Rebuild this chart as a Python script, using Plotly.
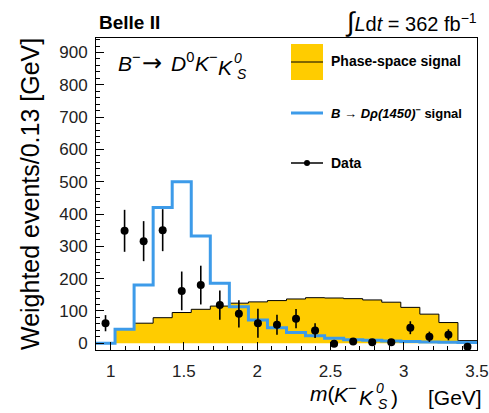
import plotly.graph_objects as go

# ---- data ----
bin_edges = [0.90, 1.03, 1.16, 1.29, 1.42, 1.55, 1.68, 1.81, 1.94, 2.07, 2.20,
             2.33, 2.46, 2.59, 2.72, 2.85, 2.98, 3.11, 3.24, 3.37, 3.50]
bin_centers = [0.965, 1.095, 1.225, 1.355, 1.485, 1.615, 1.745, 1.875, 2.005, 2.135,
               2.265, 2.395, 2.525, 2.655, 2.785, 2.915, 3.045, 3.175, 3.305, 3.435]
phase_space = [0, 43, 62, 79, 95, 105, 115, 124, 128, 132,
               137, 141, 140, 138, 134, 127, 111, 90, 64, 8]
rho1450 = [0, 43, 180, 420, 500, 332, 186, 113, 72, 48,
           33, 23, 15, 11, 9, 7, 5, 4, 3, 2]
data_vals = [62, 348, 316, 350, 162, 180, 118, 91, 62, 57,
             76, 39, -2, 5, 3, 3, 48, 20, 26, -11]
data_err = [25, 65, 62, 65, 60, 60, 45, 42, 45, 31,
            30, 23, 4, 6, 6, 6, 20, 16, 17, 4]

x_ticks = [1, 1.5, 2, 2.5, 3, 3.5]
x_ticklabels = ["1", "1.5", "2", "2.5", "3", "3.5"]
y_ticks = [0, 100, 200, 300, 400, 500, 600, 700, 800, 900]

YELLOW = "#FFCC00"
BLUE = "#3D9BE9"
FONT = "Liberation Sans, Arial, sans-serif"

W, H = 489, 413
L, R, T, B = 96, 477, 38, 350


def px(x):
    return (x - L) / (R - L)


def py(y):
    return (B - y) / (B - T)


fig = go.Figure()

fig.add_trace(go.Scatter(
    x=bin_edges, y=phase_space + [phase_space[-1]], mode="lines",
    line=dict(shape="hv", color="black", width=1),
    fill="tozeroy", fillcolor=YELLOW, showlegend=False, hoverinfo="skip"))

fig.add_trace(go.Scatter(
    x=bin_edges, y=rho1450 + [rho1450[-1]], mode="lines",
    line=dict(shape="hv", color=BLUE, width=3), showlegend=False))

fig.add_trace(go.Scatter(
    x=bin_centers, y=data_vals, mode="markers",
    marker=dict(color="black", size=8),
    error_y=dict(type="data", array=data_err, color="black", thickness=1.6, width=0),
    showlegend=False))

axis_common = dict(showline=True, linecolor="black", linewidth=1, mirror=True,
                   showgrid=False, zeroline=False, ticks="inside",
                   tickcolor="black", ticklen=8, tickwidth=1, automargin=False,
                   tickfont=dict(family=FONT, size=17, color="#222"))

fig.update_xaxes(range=[0.9, 3.5], tickvals=x_ticks, ticktext=x_ticklabels,
                 ticklabelstandoff=6,
                 minor=dict(dtick=0.1, ticks="inside", ticklen=4, tickcolor="black"),
                 **axis_common)
fig.update_yaxes(range=[-21, 945], tickvals=y_ticks, ticklabelstandoff=4,
                 minor=dict(dtick=20, ticks="inside", ticklen=4, tickcolor="black"),
                 **axis_common)

ann = []


def text(t, x, y, size, xanchor="left", family=FONT, **kw):
    d = dict(text=t, x=px(x), y=py(y), xanchor=xanchor, yanchor="middle",
             font=dict(size=size, family=family, color="black"))
    d.update(kw)
    ann.append(d)


# header
text("<b>Belle II</b>", 97, 23, 19)
text("<span style='font-size:27px'>∫</span><i>L</i>d<i>t</i> = 362 fb<sup>−1</sup>", 343, 22, 20)

# decay formula
text("<i>B</i><sup>−</sup>", 116, 62, 21)
text("→", 140, 63, 24, family="DejaVu Sans")
text("<i>D</i><sup>0</sup>", 169, 62, 21)
text("<i>K</i><sup>−</sup>", 193, 62, 21)
text("<i>K</i>", 216, 67, 21)
text("<i>0</i>", 232, 58, 14)
text("<i>S</i>", 235, 74, 14)

# legend
text("<b>Phase-space signal</b>", 329, 61, 14)
text("<b><i>B</i> → <i>Dρ(1450)</i><sup>−</sup> signal</b>", 329, 113, 13)
text("<b>Data</b>", 329, 163, 14)

# x title
text("<i>m</i>(", 308, 393, 21)
text("<i>K</i><sup>−</sup>", 332, 393, 21)
text("<i>K</i>", 357, 397, 21)
text("<i>0</i>", 374, 388, 14)
text("<i>S</i>", 376, 404, 14)
text(")", 389, 397, 21)
text("[GeV]", 426, 397, 21)

# y title
ann.append(dict(text="Weighted events/0.13 [GeV]", textangle=-90,
                x=px(30), y=py(36), xanchor="center", yanchor="top",
                font=dict(size=25, family=FONT, color="black")))

for a in ann:
    a.update(xref="paper", yref="paper", showarrow=False)

shapes = [
    dict(type="rect", x0=px(291), x1=px(323), y0=py(80), y1=py(44),
         fillcolor=YELLOW, line=dict(width=0)),
    dict(type="line", x0=px(291), x1=px(323), y0=py(62), y1=py(62),
         line=dict(color="black", width=1)),
    dict(type="line", x0=px(291), x1=px(323), y0=py(113), y1=py(113),
         line=dict(color=BLUE, width=3)),
    dict(type="line", x0=px(291), x1=px(323), y0=py(163), y1=py(163),
         line=dict(color="black", width=1.5)),
    dict(type="circle", x0=px(304), x1=px(310), y0=py(166), y1=py(160),
         fillcolor="black", line=dict(color="black", width=0)),
]
for s in shapes:
    s.update(xref="paper", yref="paper")

fig.update_layout(width=W, height=H, margin=dict(l=L, r=W - R, t=T, b=H - B),
                  paper_bgcolor="white", plot_bgcolor="white",
                  annotations=ann, shapes=shapes, showlegend=False)

fig.write_html("out.html")
